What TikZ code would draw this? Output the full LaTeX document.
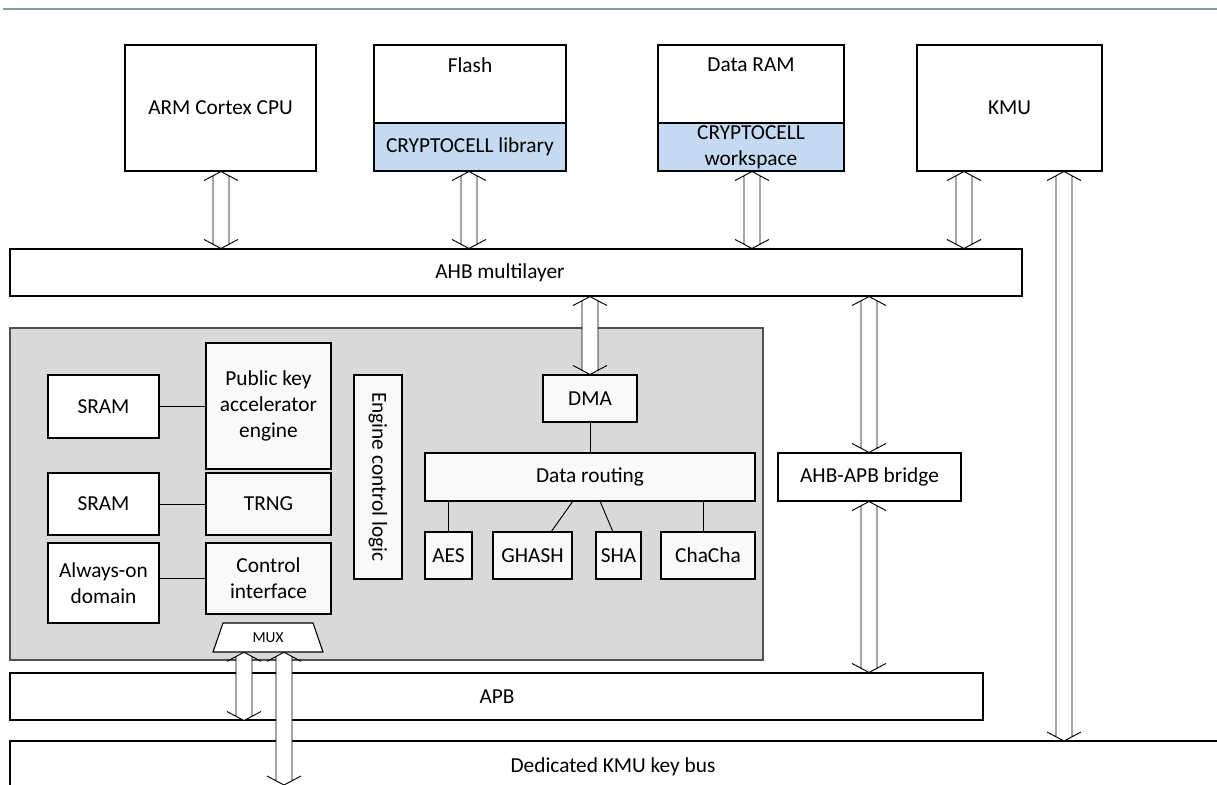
\documentclass[tikz,border=0pt]{standalone}
\usepackage{fontspec}
\setmainfont{Carlito}
\usetikzlibrary{fit,calc,positioning}
\definecolor{topline}{RGB}{140,152,160}
\definecolor{blockfill}{RGB}{217,217,217}
\definecolor{blockdraw}{RGB}{80,80,80}
\definecolor{innerfill}{RGB}{249,249,249}
\definecolor{cellblue}{RGB}{197,217,240}
\newcommand\dblarr[2]{%
 \fill[white] let \p1=#1, \p2=#2 in (\x1,\y1) -- (\x1+6pt,\y1-3.2pt) -- (\x1+6pt,\y2+3.2pt) -- (\x1,\y2) -- (\x1-6pt,\y2+3.2pt) -- (\x1-6pt,\y1-3.2pt) -- cycle;
 \draw[arrline] let \p1=#1, \p2=#2 in
   (\x1-12.75pt,\y1-6.75pt) -- (\x1,\y1) -- (\x1+12.75pt,\y1-6.75pt)
   (\x1-6pt,\y1-3.2pt) -- (\x1-6pt,\y2+3.2pt)
   (\x1+6pt,\y1-3.2pt) -- (\x1+6pt,\y2+3.2pt)
   (\x1-12.75pt,\y2+6.75pt) -- (\x1,\y2) -- (\x1+12.75pt,\y2+6.75pt);
}
\begin{document}
\begin{tikzpicture}[x=0.75pt,y=-0.75pt,
  font=\fontsize{16}{19.3}\selectfont,
  box/.style={draw=black, line width=0.8pt, fill=white, inner sep=0pt},
  ibox/.style={box, fill=innerfill},
  wbox/.style={box, fill=white},
  bluebox/.style={box, fill=cellblue},
  lbl/.style={inner sep=0pt, align=center},
  arrline/.style={line width=0.7pt, black},
  link/.style={line width=0.7pt, black}]
\useasboundingbox (0,0) rectangle (1217,785);

% top rule
\draw[topline, line width=1.5pt] (3,9) -- (1217,9);

% top boxes
\node[box, fit={(125,45) (316,171)}] (cpu) {};
\node[lbl] at (cpu.center) {ARM Cortex CPU};
\node[box, fit={(374,45) (566,123)}] (flash) {};
\node[lbl] (flashlbl) at (470,65) {Flash};
\node[bluebox, fit={(374,123) (566,171)}] (cclib) {};
\node[lbl] at (cclib.center) {CRYPTOCELL library};
\node[box, fit={(658,45) (844,123)}] (dram) {};
\node[lbl] (dramlbl) at (751,65) {Data RAM};
\node[bluebox, fit={(658,123) (844,171)}] (ccws) {};
\node[lbl, font=\fontsize{16}{19.5}\selectfont] at (ccws.center) {CRYPTOCELL\\workspace};
\node[box, fit={(917,45) (1102,171)}] (kmu) {};
\node[lbl] at (kmu.center) {KMU};

% buses
\node[box, fit={(10,249) (1022,296)}] (ahb) {};
\node[lbl] (ahblbl) at (500,273) {AHB multilayer};
\node[box, fit={(10,673) (983,720)}] (apb) {};
\node[lbl] (apblbl) at (497,697) {APB};
\coordinate (kbL) at (10,785);
\coordinate (kbTL) at (10,741);
\coordinate (kbTR) at (1217,741);
\draw[line width=0.8pt] (kbTR) -- (kbTL) -- (kbL);
\node[lbl] (kblbl) at (613,767) {Dedicated KMU key bus};

% CryptoCell block
\node[draw=blockdraw, line width=0.8pt, fill=blockfill, inner sep=0pt, fit={(10,328) (763,660)}] (cc) {};
\node[wbox, fit={(48,375) (159,438)}] (sram1) {};
\node[lbl] at (sram1.center) {SRAM};
\node[ibox, fit={(206,343) (331,469)}] (pka) {};
\node[lbl] at (pka.center) {Public key\\accelerator\\engine};
\node[wbox, fit={(48,473) (159,535)}] (sram2) {};
\node[lbl] at (sram2.center) {SRAM};
\node[ibox, fit={(206,473) (331,535)}] (trng) {};
\node[lbl] at (trng.center) {TRNG};
\node[wbox, fit={(48,543) (159,623)}] (aon) {};
\node[lbl] at (aon.center) {Always-on\\domain};
\node[ibox, fit={(206,543) (331,614)}] (ctrl) {};
\node[lbl] at (ctrl.center) {Control\\interface};
\node[ibox, fit={(354,375) (402,579)}] (ecl) {};
\node[lbl, rotate=-90] (ecllbl) at (ecl.center) {Engine control logic};
\draw[line width=0.8pt, fill=white] (223,623) -- (313,623) -- (323,652) -- (213,652) -- cycle;
\node[lbl, minimum width=110*0.75pt, minimum height=29*0.75pt, font=\fontsize{11.5}{13}\selectfont] (mux) at (268,637.5) {MUX};

\node[ibox, fit={(543,375) (637,422)}] (dma) {};
\node[lbl] at (dma.center) {DMA};
\node[ibox, fit={(425,453) (755,501)}] (route) {};
\node[lbl] at (route.center) {Data routing};
\node[ibox, fit={(425,532) (472,579)}] (aes) {};
\node[lbl] at (aes.center) {AES};
\node[ibox, fit={(493,532) (572,579)}] (ghash) {};
\node[lbl] at (ghash.center) {GHASH};
\node[ibox, fit={(596,532) (641,579)}] (sha) {};
\node[lbl] at (sha.center) {SHA};
\node[ibox, fit={(661,532) (755,579)}] (chacha) {};
\node[lbl] at (chacha.center) {ChaCha};

\node[box, fit={(778,453) (961,501)}] (bridge) {};
\node[lbl] at (bridge.center) {AHB-APB bridge};

% plain links
\draw[link] (sram1.east) -- (sram1.east -| pka.west);
\draw[link] (sram2.east) -- (sram2.east -| trng.west);
\draw[link] (aon.east |- ctrl.west) -- (ctrl.west);
\draw[link] (dma.south) -- (dma.south |- route.north);
\draw[link] (aes.north) -- (aes.north |- route.south);
\coordinate (ghTop) at (573,501);
\coordinate (ghBot) at (551,532);
\draw[link] (ghTop) -- (ghBot);
\coordinate (shTop) at (600,501);
\coordinate (shBot) at (613,532);
\draw[link] (shTop) -- (shBot);
\coordinate (chTop) at (703,501);
\draw[link] (chTop) -- (chTop |- chacha.north);

% x positions of the wide arrows
\coordinate (xcpu) at (221,0);
\coordinate (xfl) at (469,0);
\coordinate (xdr) at (752,0);
\coordinate (xkmu) at (964,0);
\coordinate (xkey) at (1064,0);
\coordinate (xdma) at (590,0);
\coordinate (xbr) at (869,0);
\coordinate (xm1) at (244,0);
\coordinate (xm2) at (284,0);
\coordinate (kbEnd) at (284,785);

\dblarr{(xcpu |- cpu.south)}{(xcpu |- ahb.north)}
\dblarr{(xfl |- cclib.south)}{(xfl |- ahb.north)}
\dblarr{(xdr |- ccws.south)}{(xdr |- ahb.north)}
\dblarr{(xkmu |- kmu.south)}{(xkmu |- ahb.north)}
\dblarr{(xkey |- kmu.south)}{(xkey |- kbTR)}
\dblarr{(xdma |- ahb.south)}{(xdma |- dma.north)}
\dblarr{(xbr |- ahb.south)}{(xbr |- bridge.north)}
\dblarr{(xbr |- bridge.south)}{(xbr |- apb.north)}
\dblarr{(xm1 |- mux.south)}{(xm1 |- apb.south)}
\dblarr{(xm2 |- mux.south)}{(kbEnd)}
\end{tikzpicture}
\end{document}
